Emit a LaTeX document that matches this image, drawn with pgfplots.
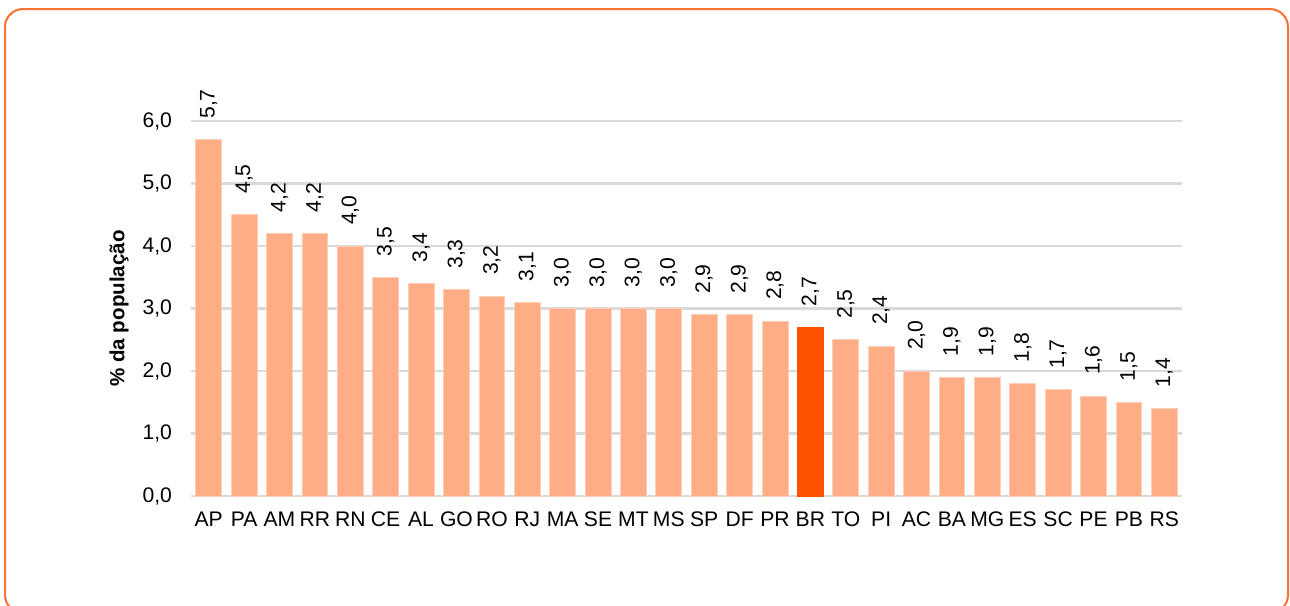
\documentclass[border=0pt]{standalone}
\usepackage{pgfplots}
\pgfplotsset{compat=1.18}
\usepackage{fontspec}
\setmainfont{Liberation Sans}
\definecolor{barc}{HTML}{FFAD86}
\definecolor{brc}{HTML}{FF5200}
\definecolor{framec}{HTML}{FF7033}
\definecolor{gridc}{HTML}{D9D9D9}
\begin{document}
\begin{tikzpicture}
\useasboundingbox (0,0) rectangle (645bp,-303bp);
\begin{scope}
\clip (0,0) rectangle (645bp,-303bp);
\draw[framec, line width=1bp, rounded corners=9bp] (2.5bp,-4.5bp) rectangle (644bp,-306.5bp);
\end{scope}
\begin{axis}[
  at={(95.5bp,-248bp)}, anchor=south west,
  scale only axis, width=495.5bp, height=187.5bp,
  xmin=-0.5, xmax=27.5, ymin=0, ymax=6,
  clip=false,
  axis line style={draw=none},
  major tick length=0pt,
  ymajorgrids, major grid style={gridc, line width=1.3bp},
  ytick={0,1,...,6},
  xtick={0,1,...,27},
  xticklabels={AP,PA,AM,RR,RN,CE,AL,GO,RO,RJ,MA,SE,MT,MS,SP,DF,PR,BR,TO,PI,AC,BA,MG,ES,SC,PE,PB,RS},
  ticklabel style={font=\fontsize{10.6}{12.7}\selectfont},
  xticklabel style={yshift=-4.5bp},
  yticklabel style={xshift=-6bp},
  /pgf/number format/assume math mode=true,
  yticklabel={\pgfmathprintnumber[fixed,fixed zerofill,precision=1,use comma]{\tick}},
  ylabel={\% da população},
  ylabel style={at={(axis description cs:-0.0727,0.5)}, anchor=center, font=\bfseries\fontsize{10.3}{12.4}\selectfont},
  ybar, bar width=0.73, bar shift=0pt,
  nodes near coords={\pgfmathprintnumber[fixed,fixed zerofill,precision=1,use comma,assume math mode=true]{\pgfplotspointmeta}},
  every node near coord/.append style={rotate=90, anchor=west, font=\fontsize{10.6}{12.7}\selectfont, black, xshift=7bp},
]
\addplot[fill=barc, draw=barc!60!white, line width=0.4bp] coordinates {
(0,5.7) (1,4.5) (2,4.2) (3,4.2) (4,4.0) (5,3.5) (6,3.4) (7,3.3) (8,3.2) (9,3.1)
(10,3.0) (11,3.0) (12,3.0) (13,3.0) (14,2.9) (15,2.9) (16,2.8)
(18,2.5) (19,2.4) (20,2.0) (21,1.9) (22,1.9) (23,1.8) (24,1.7) (25,1.6) (26,1.5) (27,1.4)};
\addplot[fill=brc, draw=brc, line width=0.4bp] coordinates {(17,2.7)};
\end{axis}
\end{tikzpicture}
\end{document}
